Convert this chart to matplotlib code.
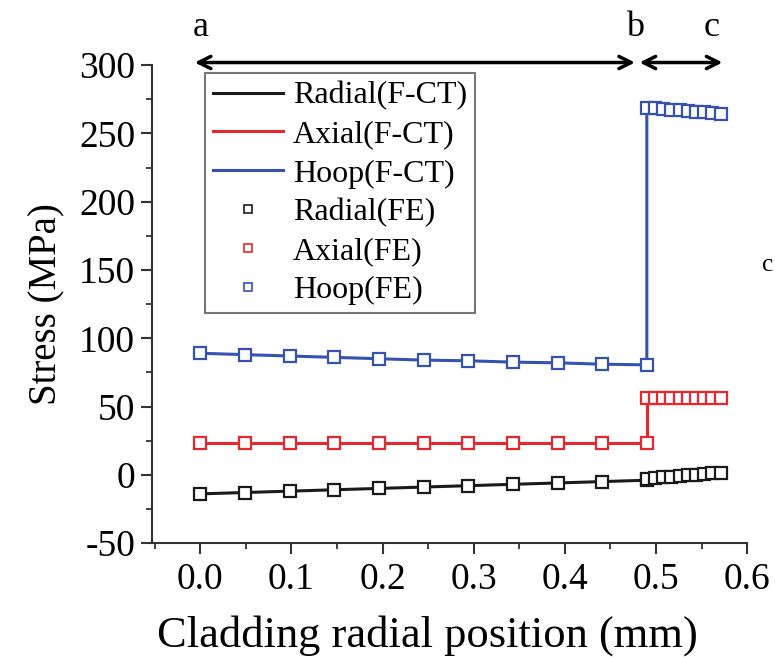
import matplotlib
matplotlib.use('Agg')
import matplotlib.pyplot as plt
from matplotlib.lines import Line2D
from matplotlib.ticker import MultipleLocator, FormatStrFormatter

plt.rcParams['font.family'] = ['Liberation Serif', 'DejaVu Serif']
plt.rcParams['axes.unicode_minus'] = False

# radial positions (mm): coarse points in region a-b, fine points in b-c
x_pos = [0.0, 0.049, 0.098, 0.147, 0.196, 0.245, 0.294, 0.343, 0.392, 0.441, 0.490,
         0.490, 0.499, 0.508, 0.517, 0.526, 0.535, 0.544, 0.553, 0.562, 0.571]

radial = [-14, -13, -12, -11, -10, -9, -8, -7, -6, -5, -4,
          -3, -2.5, -2, -1.5, -1, -0.5, 0, 0.5, 1, 1.5]
axial = [23, 23, 23, 23, 23, 23, 23, 23, 23, 23, 23,
         56.5, 56.5, 56.5, 56.5, 56.5, 56.5, 56.5, 56.5, 56.5, 56.5]
hoop = [89, 88, 87, 86, 85, 84, 83.5, 82.5, 82, 81, 80.5,
        269, 268.5, 268, 267.5, 267, 266.5, 266, 265.5, 265, 264.5]

series = [('Radial', radial, '#1a1a1a'),
          ('Axial', axial, '#e8262e'),
          ('Hoop', hoop, '#3552b0')]

# region boundaries a, b, c (mm)
region_x = {'a': 0.0, 'b': 0.477, 'c': 0.561}

fig = plt.figure(figsize=(7.75, 6.59), dpi=100)
ax = fig.add_axes([0.196, 0.176, 0.768, 0.725])

for name, vals, col in series:
    ax.plot(x_pos, vals, '-', color=col, lw=2.2, zorder=2)
for name, vals, col in series:
    ax.plot(x_pos, vals, 's', ms=8, mfc='white', mec=col, mew=1.6, ls='none', zorder=3)

ax.set_xlim(-0.053, 0.6)
ax.set_ylim(-50, 300)
ax.spines['top'].set_visible(False)
ax.spines['right'].set_visible(False)
for s in ['left', 'bottom']:
    ax.spines[s].set_linewidth(1.5)
    ax.spines[s].set_color('#333333')

ax.xaxis.set_major_locator(MultipleLocator(0.1))
ax.xaxis.set_minor_locator(MultipleLocator(0.05))
ax.xaxis.set_major_formatter(FormatStrFormatter('%.1f'))
ax.yaxis.set_major_locator(MultipleLocator(50))
ax.yaxis.set_minor_locator(MultipleLocator(25))
ax.tick_params(which='major', direction='out', length=8, width=1.5, labelsize=27, pad=4, color='#333333')
ax.tick_params(which='minor', direction='out', length=4, width=1.3, color='#333333')
ax.tick_params(axis='x', which='major', pad=6)

ax.set_ylabel('Stress (MPa)', fontsize=28, labelpad=10)
fig.text(0.552, 0.035, 'Cladding radial position (mm)', fontsize=32, ha='center', va='center')

# region arrows and letters
arrow_kw = dict(arrowstyle='<->', lw=2.5, color='black', mutation_scale=22, shrinkA=0, shrinkB=0)
ax.annotate('', xy=(-0.006, 302), xytext=(region_x['b'], 302), arrowprops=arrow_kw,
            annotation_clip=False)
ax.annotate('', xy=(region_x['b'] + 0.005, 302), xytext=(0.573, 302), arrowprops=arrow_kw,
            annotation_clip=False)
for lab, xv in region_x.items():
    ax.text(xv, 328, lab, fontsize=26, ha='center', va='center', clip_on=False)

fig.text(0.99, 0.598, 'c', fontsize=18, ha='center', va='center')

handles = []
for name, vals, col in series:
    handles.append(Line2D([], [], color=col, lw=2.2, label=name + '(F-CT)'))
for name, vals, col in series:
    handles.append(Line2D([], [], marker='s', ms=6, mfc='white', mec=col, mew=1.2,
                          ls='none', label=name + '(FE)'))
leg = ax.legend(handles=handles, loc='upper left', bbox_to_anchor=(0.089, 0.983),
                fontsize=23, frameon=True, fancybox=False, edgecolor='#555555',
                labelspacing=0.3, handlelength=2.2, handletextpad=0.3,
                borderpad=0.25, borderaxespad=0)
leg.get_frame().set_linewidth(1.5)

fig.savefig('out.png', dpi=100)
